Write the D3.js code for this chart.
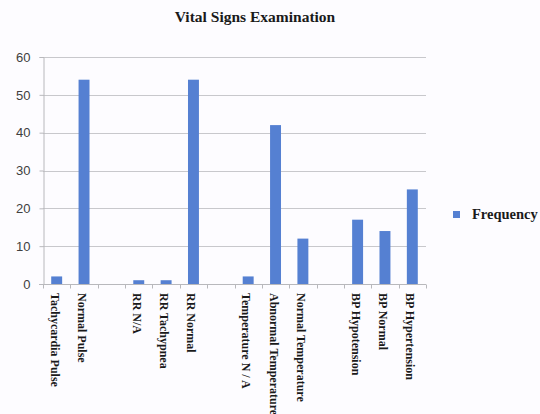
<!DOCTYPE html>
<html>
<head>
<meta charset="utf-8">
<script src="https://cdn.jsdelivr.net/npm/d3@7/dist/d3.min.js"></script>
<style>
  html, body { margin: 0; padding: 0; background: #fdfcff; }
  svg { display: block; }
</style>
</head>
<body>
<div id="chart"></div>
<script>
// Data
const categories = [
  "Tachycardia Pulse", "Normal Pulse", "",
  "RR N/A", "RR Tachypnea", "RR Normal", "",
  "Temperature N / A", "Abnormal Temperature", "Normal Temperature", "",
  "BP Hypotension", "BP Normal", "BP Hypertension"
];
const frequency = [2, 54, null, 1, 1, 54, null, 2, 42, 12, null, 17, 14, 25];
const yTicks = [0, 10, 20, 30, 40, 50, 60];
const seriesName = "Frequency";
const title = "Vital Signs Examination";

const W = 540, H = 414;
const margin = { left: 43, right: 114, top: 57, bottom: 130 };

const svg = d3.select("#chart").append("svg")
  .attr("width", W).attr("height", H);

svg.append("rect").attr("width", W).attr("height", H).attr("fill", "#fdfcff");

const x = d3.scaleBand()
  .domain(categories.map((c, i) => i))
  .range([margin.left, W - margin.right])
  .paddingInner(0.6).paddingOuter(0.3);

const y = d3.scaleLinear().domain([0, 60]).range([H - margin.bottom, margin.top]);

// gridlines
svg.append("g")
  .selectAll("line").data(yTicks.filter(d => d > 0)).join("line")
  .attr("x1", margin.left).attr("x2", W - margin.right)
  .attr("y1", d => Math.round(y(d)) + 0.5).attr("y2", d => Math.round(y(d)) + 0.5)
  .attr("stroke", "#c8c8cc").attr("stroke-width", 1);

// y axis
const yAxis = svg.append("g")
  .attr("transform", `translate(${margin.left + 0.5},0)`)
  .call(d3.axisLeft(y).tickValues(yTicks).tickSize(4).tickPadding(9));
yAxis.select(".domain").attr("stroke", "#b8b8bc");
yAxis.selectAll(".tick line").attr("stroke", "#b8b8bc");
yAxis.selectAll(".tick text")
  .attr("font-family", "'Liberation Sans', Arial, sans-serif")
  .attr("font-size", 13).attr("fill", "#404040");

// bars
svg.append("g").selectAll("rect")
  .data(frequency.map((v, i) => ({ v, i })).filter(d => d.v !== null))
  .join("rect")
  .attr("x", d => x(d.i))
  .attr("width", x.bandwidth())
  .attr("y", d => y(d.v))
  .attr("height", d => y(0) - y(d.v))
  .attr("fill", "#5580d2");

// x axis
const step = (W - margin.right - margin.left) / categories.length;
const xg = svg.append("g").attr("transform", `translate(0,${Math.round(y(0)) + 0.5})`);
xg.append("line")
  .attr("x1", margin.left - 4).attr("x2", W - margin.right)
  .attr("stroke", "#b8b8bc");
xg.selectAll("line.tk").data(d3.range(categories.length + 1)).join("line")
  .attr("class", "tk")
  .attr("x1", i => Math.round(margin.left + i * step) + 0.5)
  .attr("x2", i => Math.round(margin.left + i * step) + 0.5)
  .attr("y1", 0).attr("y2", 4)
  .attr("stroke", "#b8b8bc");

// category labels (rotated, reading top to bottom)
svg.append("g").selectAll("text")
  .data(categories.map((c, i) => ({ c, i })).filter(d => d.c !== ""))
  .join("text")
  .attr("transform", d => `translate(${x(d.i) + x.bandwidth() / 2 - 6},${y(0) + 9}) rotate(90)`)
  .attr("font-family", "'Liberation Serif', 'Times New Roman', serif")
  .attr("font-weight", "bold")
  .attr("font-size", 12)
  .attr("fill", "#1a1a1a")
  .text(d => d.c);

// title
svg.append("text")
  .attr("x", 255).attr("y", 22)
  .attr("text-anchor", "middle")
  .attr("font-family", "'Liberation Serif', 'Times New Roman', serif")
  .attr("font-weight", "bold").attr("font-size", 15.5)
  .attr("fill", "#1a1a1a")
  .text(title);

// legend
const lg = svg.append("g").attr("transform", "translate(453,211)");
lg.append("rect").attr("width", 7).attr("height", 7).attr("fill", "#5580d2");
lg.append("text").attr("x", 19).attr("y", 8)
  .attr("font-family", "'Liberation Serif', 'Times New Roman', serif")
  .attr("font-weight", "bold").attr("font-size", 14.5)
  .attr("fill", "#1a1a1a")
  .text(seriesName);
</script>
</body>
</html>
